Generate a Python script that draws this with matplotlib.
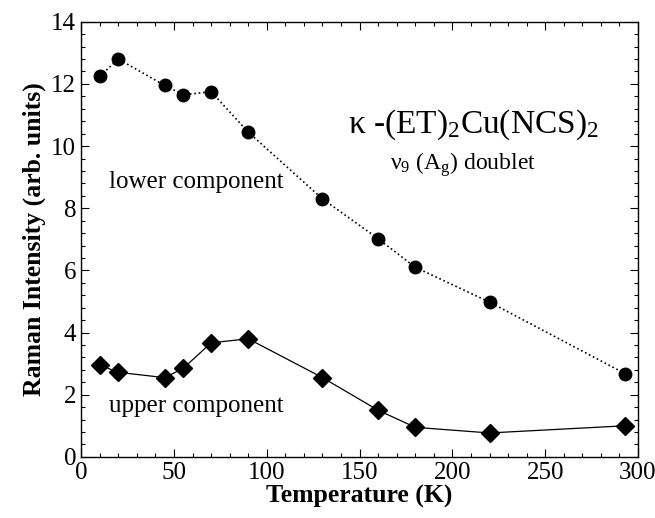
import matplotlib
matplotlib.use("Agg")
import matplotlib.pyplot as plt
from matplotlib.ticker import MultipleLocator

plt.rcParams["font.family"] = ["Liberation Serif", "DejaVu Serif"]
plt.rcParams["mathtext.fontset"] = "custom"
plt.rcParams["mathtext.rm"] = "Liberation Serif"
plt.rcParams["mathtext.it"] = "Liberation Serif:italic"

# temperatures (K)
temp = [10, 20, 45, 55, 70, 90, 130, 160, 180, 220, 293]
# Raman intensity, lower component of the doublet (circles, dotted)
lower = [12.25, 12.8, 11.95, 11.65, 11.75, 10.45, 8.3, 7.02, 6.1, 4.98, 2.68]
# Raman intensity, upper component (diamonds, solid)
upper = [2.95, 2.72, 2.55, 2.85, 3.67, 3.8, 2.55, 1.5, 0.95, 0.77, 1.0]

fig = plt.figure(figsize=(6.55, 5.18), dpi=100)
ax = fig.add_axes([0.124, 0.118, 0.850, 0.840])

ax.plot(temp, lower, color="k", ls=":", lw=1.2, marker="o", ms=9, zorder=3)
ax.plot(temp, upper, color="k", ls="-", lw=0.9, marker="D", ms=9, zorder=3)

ax.set_xlim(0, 300)
ax.set_ylim(0, 14)
ax.xaxis.set_major_locator(MultipleLocator(50))
ax.xaxis.set_minor_locator(MultipleLocator(10))
ax.yaxis.set_major_locator(MultipleLocator(2))
ax.yaxis.set_minor_locator(MultipleLocator(0.4))
ax.tick_params(which="both", direction="in", top=True, right=True, labelsize=18, width=0.8)
ax.tick_params(which="major", length=6)
ax.tick_params(which="minor", length=3)
for s in ax.spines.values():
    s.set_linewidth(1.0)

ax.set_xlabel("Temperature (K)", fontsize=18.5, fontweight="bold", labelpad=1)
ax.set_ylabel("Raman Intensity (arb. units)", fontsize=18.5, fontweight="bold", labelpad=4)

ax.text(0.479, 0.745, r"κ -(ET)$_2$Cu(NCS)$_2$", transform=ax.transAxes,
        ha="left", va="baseline", fontsize=24)
ax.text(0.555, 0.660, r"ν$_9$ (A$_\mathrm{g}$) doublet", transform=ax.transAxes,
        ha="left", va="baseline", fontsize=17)
ax.text(0.05, 0.618, "lower component", transform=ax.transAxes,
        ha="left", va="baseline", fontsize=18)
ax.text(0.05, 0.103, "upper component", transform=ax.transAxes,
        ha="left", va="baseline", fontsize=18)

fig.savefig("out.png", dpi=100)
